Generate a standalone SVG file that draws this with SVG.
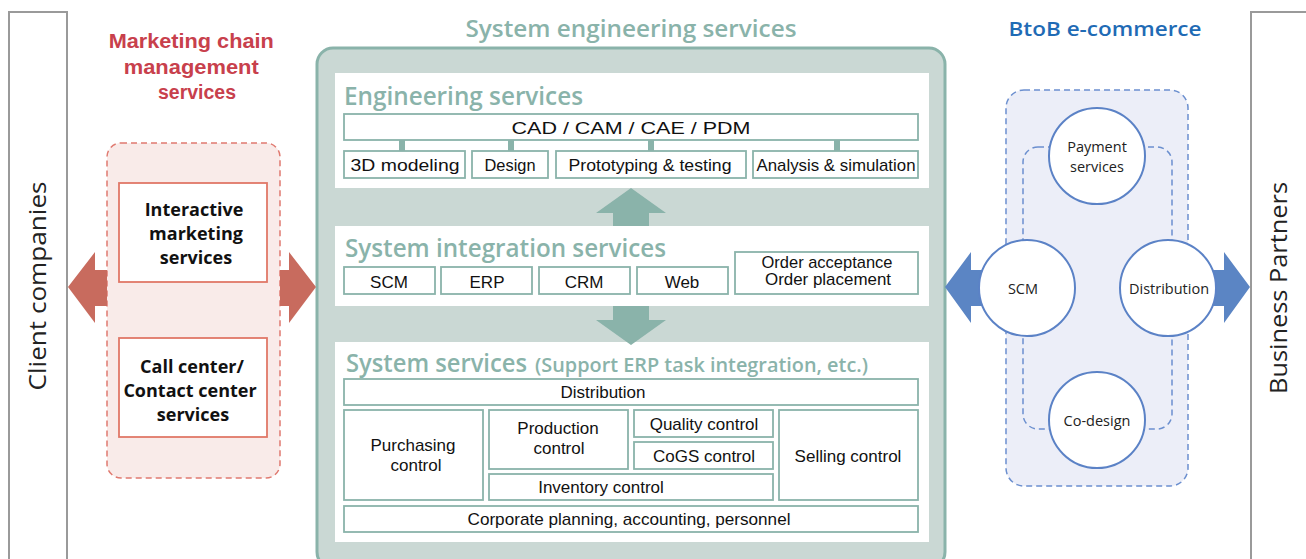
<svg xmlns="http://www.w3.org/2000/svg" width="1306" height="559" viewBox="0 0 1306 559">
<style>
.side{fill:#fff;stroke:#9a9a9a;stroke-width:2}
.sideT{font-family:"Open Sans","Liberation Sans",sans-serif;font-size:23px;fill:#222}
.ttl{font-family:"Open Sans","Liberation Sans",sans-serif;font-weight:600;fill:#8ab3aa}
.bx{fill:#fff;stroke:#8ab3aa;stroke-width:1.8}
.t{font-family:"Liberation Sans",Arial,sans-serif;font-size:17px;fill:#111;text-anchor:middle}
.wp{fill:#fff}
.mk{fill:#fff;stroke:#e07868;stroke-width:1.8}
.mkT{font-family:"Open Sans","Liberation Sans",sans-serif;font-weight:700;font-size:18px;fill:#111;text-anchor:middle}
.circ{fill:#fff;stroke:#5b82c6;stroke-width:2}
.cT{font-family:"Open Sans","Liberation Sans",sans-serif;font-size:14.5px;fill:#222;text-anchor:middle}
.tealA{fill:#8ab3aa}
.redA{fill:#c86b5e}
.blueA{fill:#5b85c4}
</style>

<!-- Side panels -->
<g id="client-companies">
  <rect class="side" x="9" y="12" width="58" height="560"/>
  <text class="sideT" transform="translate(46,286) rotate(-90)" text-anchor="middle" textLength="209" lengthAdjust="spacingAndGlyphs">Client companies</text>
</g>
<g id="business-partners">
  <rect class="side" x="1251" y="12" width="70" height="560"/>
  <text class="sideT" transform="translate(1287,288) rotate(-90)" text-anchor="middle" textLength="212" lengthAdjust="spacingAndGlyphs">Business Partners</text>
</g>

<!-- Marketing chain management -->
<g id="marketing-chain">
  <text font-family="Liberation Sans, Arial, sans-serif" font-weight="700" font-size="20" fill="#c8404c" text-anchor="middle">
    <tspan x="194" y="48" textLength="165" lengthAdjust="spacingAndGlyphs">Marketing chain</tspan>
    <tspan x="194" y="74" textLength="135" lengthAdjust="spacingAndGlyphs">management</tspan>
    <tspan x="197" y="99" textLength="78" lengthAdjust="spacingAndGlyphs">services</tspan>
  </text>
  <rect x="107" y="143" width="173" height="335" rx="14" fill="#f9ebe9" stroke="#e07a70" stroke-width="1.5" stroke-dasharray="6 4"/>
</g>
<g id="interactive-marketing">
  <rect class="mk" x="119" y="183" width="148" height="99"/>
  <text class="mkT"><tspan x="194" y="216">Interactive</tspan><tspan x="196" y="240">marketing</tspan><tspan x="196" y="264">services</tspan></text>
</g>
<g id="call-center">
  <rect class="mk" x="119" y="338" width="148" height="99"/>
  <text class="mkT"><tspan x="192" y="373">Call center/</tspan><tspan x="190" y="397">Contact center</tspan><tspan x="193" y="421">services</tspan></text>
</g>

<!-- System engineering services -->
<g id="system-engineering">
  <text class="ttl" x="631" y="37" font-size="24" text-anchor="middle" textLength="331" lengthAdjust="spacingAndGlyphs">System engineering services</text>
  <rect x="317" y="48" width="628" height="520" rx="16" fill="#cad8d4" stroke="#8ab3aa" stroke-width="3"/>
</g>

<g id="engineering-services">
  <rect class="wp" x="335" y="73" width="594" height="115"/>
  <text class="ttl" x="344" y="105" font-size="25" textLength="239" lengthAdjust="spacingAndGlyphs">Engineering services</text>
  <rect class="bx" x="344" y="114" width="574" height="26"/>
  <text class="t" x="631" y="134" font-size="20" textLength="239" lengthAdjust="spacingAndGlyphs">CAD / CAM / CAE / PDM</text>
  <rect class="bx" x="344" y="151" width="121" height="27"/>
  <text class="t" x="405" y="171" textLength="109" lengthAdjust="spacingAndGlyphs">3D modeling</text>
  <rect class="bx" x="472" y="151" width="76" height="27"/>
  <text class="t" x="510" y="171" textLength="51" lengthAdjust="spacingAndGlyphs">Design</text>
  <rect class="bx" x="556" y="151" width="190" height="27"/>
  <text class="t" x="650" y="171" textLength="163" lengthAdjust="spacingAndGlyphs">Prototyping &amp; testing</text>
  <rect class="bx" x="753" y="151" width="165" height="27"/>
  <text class="t" x="836" y="171" textLength="159" lengthAdjust="spacingAndGlyphs">Analysis &amp; simulation</text>
</g>

<g id="system-integration">
  <rect class="wp" x="335" y="226" width="594" height="80"/>
  <text class="ttl" x="345" y="257" font-size="25" textLength="321" lengthAdjust="spacingAndGlyphs">System integration services</text>
  <rect class="bx" x="344" y="267" width="91" height="27"/>
  <text class="t" x="389" y="288" font-size="18">SCM</text>
  <rect class="bx" x="441" y="267" width="91" height="27"/>
  <text class="t" x="487" y="288" font-size="18">ERP</text>
  <rect class="bx" x="539" y="267" width="91" height="27"/>
  <text class="t" x="584" y="288" font-size="18">CRM</text>
  <rect class="bx" x="637" y="267" width="91" height="27"/>
  <text class="t" x="682" y="288" font-size="18">Web</text>
  <rect class="bx" x="735" y="252" width="183" height="42"/>
  <text class="t" x="827" y="268" font-size="14.5" textLength="131" lengthAdjust="spacingAndGlyphs">Order acceptance</text>
  <text class="t" x="828" y="285" font-size="14.5" textLength="126" lengthAdjust="spacingAndGlyphs">Order placement</text>
</g>

<g id="system-services">
  <rect class="wp" x="335" y="342" width="594" height="200"/>
  <text class="ttl" x="346" y="372" font-size="25" textLength="181" lengthAdjust="spacingAndGlyphs">System services</text>
  <text class="ttl" x="535" y="372" font-size="20" textLength="333" lengthAdjust="spacingAndGlyphs">(Support ERP task integration, etc.)</text>
  <rect class="bx" x="344" y="379" width="574" height="26"/>
  <text class="t" x="603" y="398">Distribution</text>
  <rect class="bx" x="344" y="410" width="139" height="90"/>
  <text class="t" x="413" y="451">Purchasing</text>
  <text class="t" x="416" y="471">control</text>
  <rect class="bx" x="489" y="410" width="139" height="59"/>
  <text class="t" x="558" y="434">Production</text>
  <text class="t" x="559" y="454">control</text>
  <rect class="bx" x="634" y="410" width="139" height="27"/>
  <text class="t" x="704" y="430">Quality control</text>
  <rect class="bx" x="634" y="442" width="139" height="27"/>
  <text class="t" x="704" y="462">CoGS control</text>
  <rect class="bx" x="489" y="474" width="284" height="26"/>
  <text class="t" x="601" y="493">Inventory control</text>
  <rect class="bx" x="779" y="410" width="139" height="90"/>
  <text class="t" x="848" y="462">Selling control</text>
  <rect class="bx" x="344" y="506" width="574" height="26"/>
  <text class="t" x="629" y="525" textLength="323" lengthAdjust="spacingAndGlyphs">Corporate planning, accounting, personnel</text>
</g>

<!-- BtoB e-commerce -->
<g id="btob-ecommerce">
  <text x="1105" y="36" font-family="Open Sans, Liberation Sans, sans-serif" font-weight="600" font-size="20" fill="#1f6bb5" text-anchor="middle" textLength="193" lengthAdjust="spacingAndGlyphs">BtoB e-commerce</text>
  <rect x="1006" y="90" width="182" height="396" rx="18" fill="#eceef8" stroke="#6b8fcf" stroke-width="1.5" stroke-dasharray="6 4"/>
  <rect x="1023" y="147" width="149" height="282" rx="15" fill="none" stroke="#6b8fcf" stroke-width="1.5" stroke-dasharray="6 4"/>
</g>
<g id="payment-services">
  <circle class="circ" cx="1097" cy="156" r="48"/>
  <text class="cT"><tspan x="1097" y="152">Payment</tspan><tspan x="1097" y="172">services</tspan></text>
</g>
<g id="co-design">
  <circle class="circ" cx="1097" cy="420" r="48"/>
  <text class="cT" x="1097" y="426">Co-design</text>
</g>

<!-- Connectors -->
<g id="connectors">
  <rect class="tealA" x="399" y="140" width="6" height="11"/>
  <rect class="tealA" x="508" y="140" width="6" height="11"/>
  <rect class="tealA" x="648" y="140" width="6" height="11"/>
  <rect class="tealA" x="834" y="140" width="6" height="11"/>
  <polygon class="tealA" points="631,188 666,213 649,213 649,226 613,226 613,213 596,213"/>
  <polygon class="tealA" points="613,306 649,306 649,320 666,320 631,345 596,320 613,320"/>
  <polygon class="redA" points="68,287 95,252 95,270 107,270 107,306 95,306 95,323"/>
  <polygon class="redA" points="316,287 289,252 289,270 280,270 280,306 289,306 289,323"/>
  <polygon class="blueA" points="945,287 971,252 971,270 1000,270 1000,306 971,306 971,323"/>
  <polygon class="blueA" points="1250,287 1224,252 1224,270 1195,270 1195,306 1224,306 1224,323"/>
</g>

<g id="scm">
  <circle class="circ" cx="1027" cy="288" r="48"/>
  <text class="cT" x="1023" y="294">SCM</text>
</g>
<g id="distribution">
  <circle class="circ" cx="1168" cy="288" r="48"/>
  <text class="cT" x="1169" y="294">Distribution</text>
</g>
</svg>
